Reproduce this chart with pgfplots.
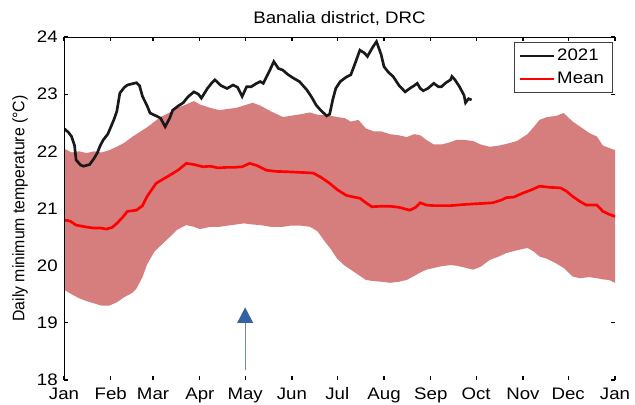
\documentclass[border=0pt]{standalone}
\usepackage{pgfplots}
\pgfplotsset{compat=1.18}
\usepackage{pgfplotstable}
\usepgfplotslibrary{fillbetween}
\usepackage{fontspec}
\setmainfont{Liberation Sans}[FakeStretch=1.12]
\newfontfamily\ylfont{Liberation Sans}[FakeStretch=0.95]
\definecolor{bandcol}{RGB}{214,126,126}
\definecolor{arrowblue}{RGB}{52,98,165}
\definecolor{arrowline}{RGB}{110,135,175}

\pgfplotstableread{
day lower upper
0 19.58 22.05
5 19.50 21.98
10 19.43 22.00
15 19.38 21.97
20 19.34 22.00
25 19.30 21.98
30 19.30 22.02
35 19.36 22.08
40 19.45 22.15
45 19.52 22.25
48 19.60 22.30
52 19.80 22.37
55 20.02 22.42
60 20.25 22.52
64 20.35 22.60
70 20.50 22.68
75 20.63 22.76
81 20.71 22.82
86 20.68 22.88
90 20.64 22.82
97 20.68 22.76
103 20.68 22.72
108 20.70 22.74
114 20.72 22.76
119 20.74 22.80
125 20.72 22.85
130 20.71 22.80
137 20.68 22.70
145 20.68 22.60
150 20.70 22.62
157 20.70 22.65
163 20.68 22.68
168 20.60 22.64
172 20.45 22.64
177 20.28 22.62
181 20.12 22.60
186 20.00 22.58
190 19.93 22.52
195 19.84 22.55
200 19.75 22.40
205 19.73 22.35
210 19.72 22.35
216 19.70 22.30
222 19.72 22.28
227 19.75 22.25
232 19.82 22.30
236 19.88 22.28
240 19.93 22.20
245 19.96 22.12
250 19.99 22.12
256 20.01 22.16
260 20.00 22.20
265 19.97 22.20
271 19.93 22.18
276 19.98 22.12
282 20.10 22.08
288 20.16 22.10
293 20.22 22.13
300 20.27 22.18
307 20.31 22.30
311 20.25 22.42
315 20.16 22.55
320 20.12 22.60
326 20.04 22.62
331 19.96 22.67
337 19.81 22.52
342 19.78 22.43
348 19.80 22.32
353 19.78 22.26
357 19.76 22.10
361 19.75 22.06
365 19.70 22.02
}\bandtable

\pgfplotstableread{
day mean
0 20.80
4 20.78
8 20.71
14 20.68
19 20.66
24 20.66
28 20.64
32 20.67
35 20.74
39 20.85
42 20.95
48 20.97
52 21.05
55 21.21
61 21.44
66 21.52
70 21.58
76 21.68
81 21.79
86 21.77
92 21.73
97 21.74
102 21.71
108 21.72
113 21.72
118 21.73
123 21.79
128 21.75
134 21.67
140 21.65
150 21.64
158 21.63
165 21.62
170 21.55
176 21.44
181 21.33
187 21.23
192 21.20
196 21.18
200 21.10
204 21.03
210 21.04
216 21.04
222 21.02
229 20.97
233 21.02
236 21.10
240 21.06
245 21.05
256 21.05
265 21.07
271 21.08
278 21.09
284 21.10
290 21.15
293 21.19
298 21.20
304 21.27
310 21.33
315 21.39
322 21.37
329 21.36
333 21.30
337 21.21
342 21.12
346 21.06
350 21.06
353 21.06
357 20.95
361 20.90
365 20.86
}\meantable

\pgfplotstableread{
day t
0 22.40
3 22.33
5 22.26
7 22.10
8 21.85
11 21.76
13 21.74
17 21.77
20 21.88
22 21.97
24 22.10
26 22.20
29 22.30
33 22.55
35 22.70
37 23.02
40 23.12
42 23.16
45 23.18
48 23.20
50 23.15
52 22.96
55 22.80
57 22.67
61 22.62
64 22.58
67 22.43
70 22.58
72 22.72
76 22.80
79 22.85
82 22.95
86 23.04
89 23.00
91 22.93
95 23.10
98 23.20
100 23.25
104 23.15
108 23.10
112 23.16
115 23.12
118 22.96
121 23.13
124 23.13
127 23.18
130 23.22
132 23.19
136 23.40
139 23.57
142 23.45
145 23.42
148 23.35
152 23.28
156 23.22
161 23.07
164 22.95
167 22.81
170 22.72
174 22.62
176 22.65
178 22.90
180 23.10
183 23.22
187 23.30
190 23.34
193 23.55
196 23.77
199 23.72
201 23.66
204 23.80
207 23.92
210 23.70
212 23.48
215 23.38
218 23.31
222 23.15
226 23.04
229 23.10
232 23.15
234 23.19
236 23.10
238 23.06
241 23.10
245 23.19
248 23.13
250 23.13
253 23.20
256 23.25
257 23.31
259 23.25
262 23.13
265 22.98
266 22.85
268 22.92
270 22.90
}\yeartable

\begin{document}
\begin{tikzpicture}
\begin{axis}[
  at={(0,0)}, anchor=south west,
  scale only axis,
  width=413.25pt, height=257.25pt,
  xmin=0, xmax=365, ymin=18, ymax=24,
  xtick={0,31,59,90,120,151,181,212,243,273,304,334,365},
  xticklabels={Jan,Feb,Mar,Apr,May,Jun,Jul,Aug,Sep,Oct,Nov,Dec,Jan},
  ytick={18,19,20,21,22,23,24},
  /pgf/number format/assume math mode=true,
  tick align=inside,
  xtick pos=both, ytick pos=both,
  major tick length=3pt,
  tick style={black, line width=0.9pt},
  axis line style={draw=none},
  ticklabel style={font=\fontsize{12.5}{14}\selectfont},
  xticklabel style={anchor=base, yshift=-14.5pt, inner sep=0pt},
  yticklabel style={anchor=east, inner sep=0pt, xshift=-4.5pt},
  title={Banalia district, DRC},
  title style={font=\fontsize{12.5}{14}\selectfont, anchor=base, yshift=4.5pt, inner sep=0pt},
  ylabel={Daily minimum temperature (°C)},
  ylabel style={font=\ylfont\fontsize{12.5}{14}\selectfont, at={(axis description cs:-0.0799,0.5)}, anchor=center, inner sep=0pt},
  legend style={at={(0.995,0.985)}, anchor=north east, draw=black!75, line width=0.5pt, fill=white,
     font=\fontsize{12.5}{14}\selectfont, inner xsep=4pt, inner ysep=3pt, row sep=3pt},
  legend cell align=left,
  legend image code/.code={\draw[#1] (0pt,0pt) -- (25pt,0pt);},
  legend image post style={line width=1.2pt},
]
\addplot[name path=up, draw=none, forget plot] table[x=day, y=upper] {\bandtable};
\addplot[name path=lo, draw=none, forget plot] table[x=day, y=lower] {\bandtable};
\addplot[fill=bandcol, draw=none, forget plot] fill between[of=up and lo];
\addplot[color=black!90, line width=2pt] table[x=day, y=t] {\yeartable};
\addlegendentry{2021}
\addplot[color=red, line width=2pt] table[x=day, y=mean] {\meantable};
\addlegendentry{Mean}
\draw[black, line width=1.8pt] (rel axis cs:0,0) -- (rel axis cs:0,1);
\draw[black, line width=0.6pt] (rel axis cs:0,1) -- (rel axis cs:1,1);
\draw[arrowline, line width=0.7pt] (axis cs:120,18.17) -- (axis cs:120,19.0);
\fill[arrowblue] (axis cs:114.7,19.0) -- (axis cs:125.3,19.0) -- (axis cs:120,19.27) -- cycle;
\end{axis}
\pgfresetboundingbox
\path[use as bounding box] (-48pt,-18pt) rectangle (428.25pt,285pt);
\end{tikzpicture}
\end{document}
